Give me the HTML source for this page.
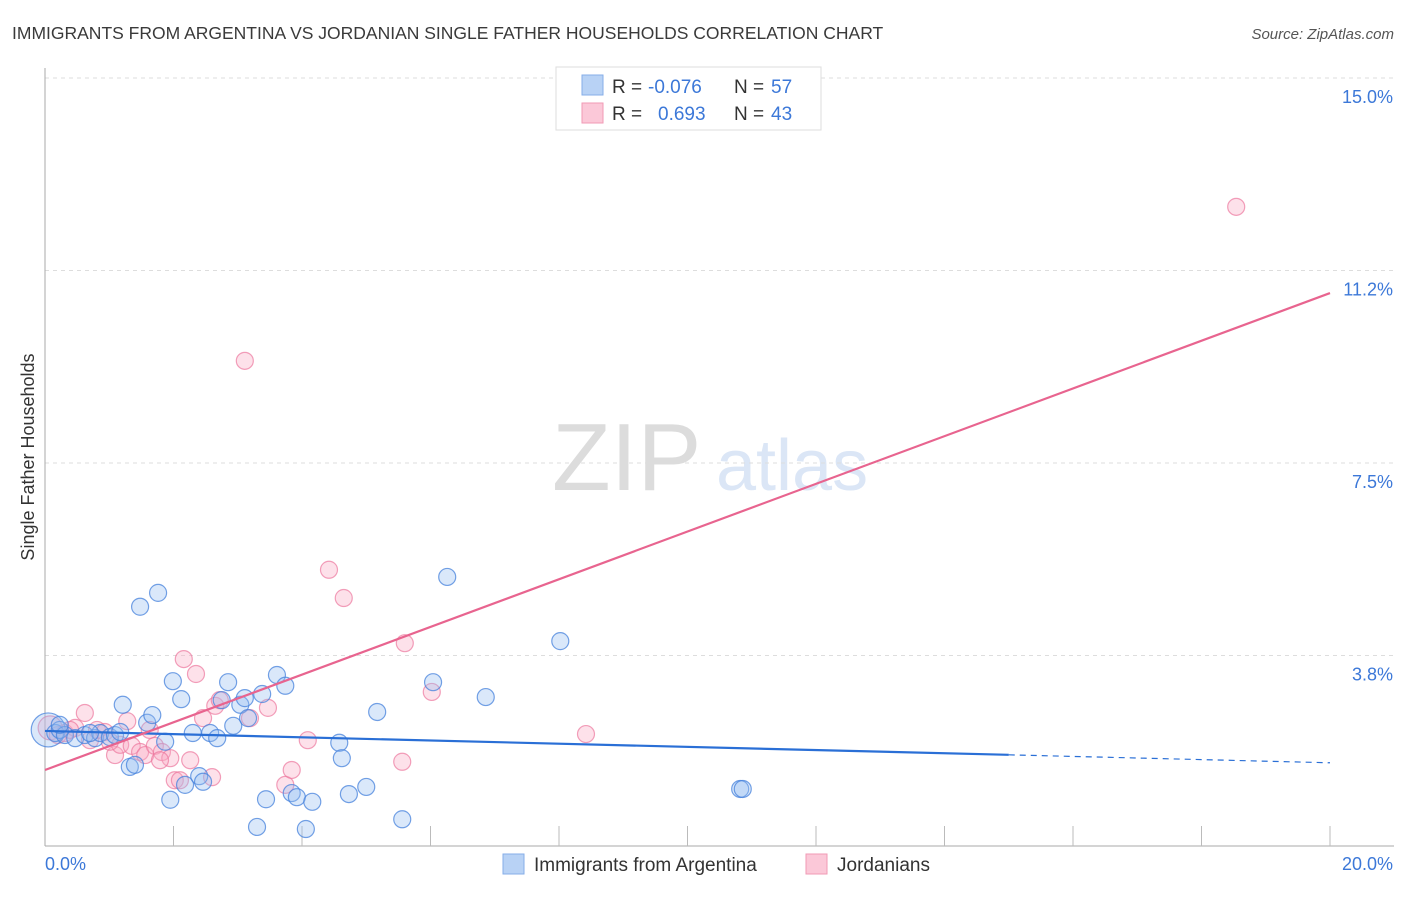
<!DOCTYPE html>
<html><head><meta charset="utf-8"><style>
body{margin:0;background:#fff;font-family:"Liberation Sans",sans-serif;}
svg text{font-family:"Liberation Sans",sans-serif;}
</style></head><body>
<svg id="chart" width="1406" height="892" xmlns="http://www.w3.org/2000/svg">
<text x="12" y="39" font-size="17.5" fill="#3a3a3a">IMMIGRANTS FROM ARGENTINA VS JORDANIAN SINGLE FATHER HOUSEHOLDS CORRELATION CHART</text>
<text x="1394" y="39" font-size="15" fill="#555" font-style="italic" text-anchor="end">Source: ZipAtlas.com</text>
<g>
<text x="552" y="490" font-size="96" fill="#dcdcdc" font-family="Liberation Serif,serif">ZIP</text>
<text x="716" y="490" font-size="72" fill="#dbe6f6">atlas</text>
</g>
<g id="grid"></g>
<g id="axes"></g>
<g id="marks"></g>
<text transform="translate(34,457) rotate(-90)" font-size="18" fill="#333" text-anchor="middle">Single Father Households</text>
<g>
<rect x="556" y="67" width="265" height="63" fill="#fff" stroke="#ddd"/>
<rect x="582" y="75" width="21" height="20" fill="#b8d2f5" stroke="#86aee8"/>
<text x="612" y="93" font-size="19" fill="#333">R =</text><text x="648" y="93" font-size="19" fill="#3c78d8">-0.076</text>
<text x="734" y="93" font-size="19" fill="#333">N =</text><text x="771" y="93" font-size="19" fill="#3c78d8">57</text>
<rect x="582" y="103" width="21" height="20" fill="#fbc8d8" stroke="#f09ab5"/>
<text x="612" y="120" font-size="19" fill="#333">R =</text><text x="658" y="120" font-size="19" fill="#3c78d8">0.693</text>
<text x="734" y="120" font-size="19" fill="#333">N =</text><text x="771" y="120" font-size="19" fill="#3c78d8">43</text>
</g>
<g>
<rect x="503" y="854" width="21" height="20" fill="#b8d2f5" stroke="#86aee8"/>
<text x="534" y="871" font-size="19" fill="#333">Immigrants from Argentina</text>
<rect x="806" y="854" width="21" height="20" fill="#fbc8d8" stroke="#f09ab5"/>
<text x="837" y="871" font-size="19" fill="#333">Jordanians</text>
</g>
</svg>
<script>
const yTicks=[3.75,7.5,11.25,15];
const yTickLabels=["3.8%","7.5%","11.2%","15.0%"];
const xTicks=[2,4,6,8,10,12,14,16,18,20];
const xEndLabels=["0.0%","20.0%"];
const blueX=[0.05,0.16,0.23,0.31,0.47,0.62,0.78,0.86,1.01,1.09,1.17,1.21,1.48,1.76,1.59,1.67,1.32,1.40,1.87,1.95,1.99,2.12,2.18,2.30,2.40,2.46,2.57,2.68,2.75,2.85,2.93,3.04,3.11,3.16,3.30,3.38,3.44,3.61,3.74,3.84,3.92,4.06,4.16,4.58,4.62,4.73,5.00,5.17,5.56,6.04,6.26,6.86,8.02,10.82,10.86,0.23,0.70];
const blueY=[2.30,2.24,2.30,2.20,2.14,2.20,2.14,2.24,2.16,2.20,2.26,2.79,4.70,4.97,2.44,2.59,1.58,1.62,2.07,0.94,3.25,2.90,1.23,2.24,1.40,1.29,2.24,2.14,2.88,3.23,2.38,2.79,2.92,2.53,0.41,3.00,0.95,3.37,3.16,1.07,0.99,0.37,0.90,2.05,1.75,1.05,1.19,2.65,0.56,3.23,5.28,2.94,4.03,1.15,1.15,2.40,2.24];
const pinkX=[0.08,0.20,0.31,0.47,0.62,0.70,0.81,0.93,1.09,1.17,1.28,1.35,1.48,1.56,1.63,1.71,1.82,1.95,2.02,2.10,2.16,2.26,2.35,2.46,2.60,2.65,2.72,3.11,3.19,3.47,3.74,3.84,4.09,4.42,4.65,5.56,5.60,6.02,8.42,18.54,1.79,1.01,0.39];
const pinkY=[2.34,2.20,2.24,2.34,2.63,2.10,2.30,2.26,1.81,2.01,2.47,1.99,1.87,1.81,2.30,1.99,1.87,1.75,1.32,1.32,3.68,1.71,3.39,2.53,1.38,2.77,2.88,9.49,2.53,2.73,1.23,1.52,2.10,5.42,4.87,1.68,3.99,3.04,2.22,12.49,1.71,2.07,2.30];
const blueTrend=[2.28,-0.031]; // intercept, slope
const pinkTrend=[1.52,0.4645];
const blueSolidEnd=15.0;

const NS="http://www.w3.org/2000/svg";
const X0=45,X1=1330,Y0=848,Y1=78;
const sx=v=>X0+(v/20)*(X1-X0);
const sy=v=>Y0-(v/15)*(Y0-Y1);
function mk(tag,attrs,parent){const e=document.createElementNS(NS,tag);for(const k in attrs)e.setAttribute(k,attrs[k]);parent.appendChild(e);return e;}
const grid=document.getElementById('grid'),axes=document.getElementById('axes'),marks=document.getElementById('marks');
yTicks.forEach((t,i)=>{
 const l=mk('line',{x1:X0,x2:1394,y1:sy(t),y2:sy(t),stroke:'#ddd','stroke-dasharray':'4,4'},grid);
 
 
 const tx=mk('text',{x:1393,y:sy(t)+25,'font-size':18,fill:'#3c78d8','text-anchor':'end'},grid);
 tx.textContent=yTickLabels[i];
 
 
});
const ya=mk('line',{x1:X0,x2:X0,y1:68,y2:846,stroke:'#aaa'},axes);


const xa=mk('line',{x1:X0,x2:1394,y1:846,y2:846,stroke:'#aaa'},axes);


xTicks.forEach(t=>{
 const l=mk('line',{x1:sx(t),x2:sx(t),y1:826,y2:846,stroke:'#bbb'},axes);
 
 
});
const xl0=mk('text',{x:45,y:870,'font-size':18,fill:'#3c78d8'},axes);xl0.textContent=xEndLabels[0];


const xl1=mk('text',{x:1393,y:870,'font-size':18,fill:'#3c78d8','text-anchor':'end'},axes);xl1.textContent=xEndLabels[1];



pinkX.forEach((x,i)=>{
 const c=mk('circle',{cx:sx(x),cy:sy(pinkY[i]),r:i===0?12:8.5,fill:'rgba(248,168,195,0.35)',stroke:'rgba(236,120,158,0.7)','stroke-width':1.2},marks);
 
 
});
blueX.forEach((x,i)=>{
 const c=mk('circle',{cx:sx(x),cy:sy(blueY[i]),r:i===0?17:8.5,fill:'rgba(150,190,240,0.35)',stroke:'rgba(70,130,220,0.75)','stroke-width':1.2},marks);
 
 
});
const bt=v=>blueTrend[0]+blueTrend[1]*v, pt=v=>pinkTrend[0]+pinkTrend[1]*v;
const b1=mk('line',{x1:sx(0),y1:sy(bt(0)),x2:sx(blueSolidEnd),y2:sy(bt(blueSolidEnd)),stroke:'#2a6fd6','stroke-width':2.2},marks);


const b2=mk('line',{x1:sx(blueSolidEnd),y1:sy(bt(blueSolidEnd)),x2:sx(20),y2:sy(bt(20)),stroke:'#2a6fd6','stroke-width':1.2,'stroke-dasharray':'6,5'},marks);


const p1=mk('line',{x1:sx(0),y1:sy(pt(0)),x2:sx(20),y2:sy(pt(20)),stroke:'#e8648f','stroke-width':2.2},marks);


</script>
</body></html>
